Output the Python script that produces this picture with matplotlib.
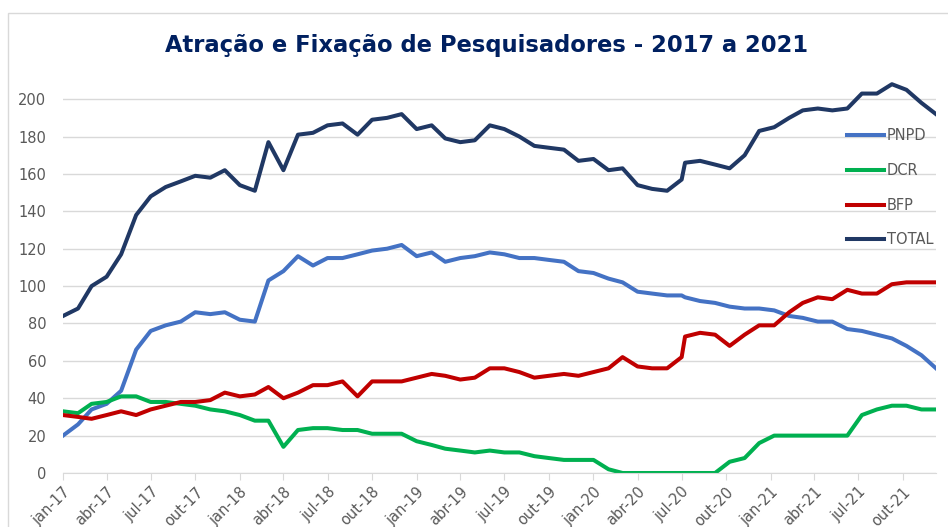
import pandas as pd
import matplotlib.pyplot as plt
import matplotlib.dates as mdates
from matplotlib.patches import Rectangle

# monthly points up to jul-20, then a second series of dates from jul-20 on
dates = list(pd.date_range('2017-01-01', '2020-07-01', freq='MS')) + \
    list(pd.date_range('2020-07-01', '2021-12-01', freq='MS') + pd.Timedelta(days=7))

pnpd = [20, 26, 34, 37, 44, 66, 76, 79, 81, 86, 85, 86, 82, 81, 103, 108, 116, 111,
        115, 115, 117, 119, 120, 122, 116, 118, 113, 115, 116, 118, 117, 115, 115, 114,
        113, 108, 107, 104, 102, 97, 96, 95, 95,
        94, 92, 91, 89, 88, 88, 87, 84, 83, 81, 81, 77, 76, 74, 72, 68, 63, 56]
dcr = [33, 32, 37, 38, 41, 41, 38, 38, 37, 36, 34, 33, 31, 28, 28, 14, 23, 24,
       24, 23, 23, 21, 21, 21, 17, 15, 13, 12, 11, 12, 11, 11, 9, 8,
       7, 7, 7, 2, 0, 0, 0, 0, 0,
       0, 0, 0, 6, 8, 16, 20, 20, 20, 20, 20, 20, 31, 34, 36, 36, 34, 34]
bfp = [31, 30, 29, 31, 33, 31, 34, 36, 38, 38, 39, 43, 41, 42, 46, 40, 43, 47,
       47, 49, 41, 49, 49, 49, 51, 53, 52, 50, 51, 56, 56, 54, 51, 52,
       53, 52, 54, 56, 62, 57, 56, 56, 62,
       73, 75, 74, 68, 74, 79, 79, 86, 91, 94, 93, 98, 96, 96, 101, 102, 102, 102]
total = [84, 88, 100, 105, 117, 138, 148, 153, 156, 159, 158, 162, 154, 151, 177, 162, 181, 182,
         186, 187, 181, 189, 190, 192, 184, 186, 179, 177, 178, 186, 184, 180, 175, 174,
         173, 167, 168, 162, 163, 154, 152, 151, 157,
         166, 167, 165, 163, 170, 183, 185, 190, 194, 195, 194, 195, 203, 203, 208, 205, 198, 192]

series = [('PNPD', pnpd, '#4472C4'), ('DCR', dcr, '#00B050'),
          ('BFP', bfp, '#C00000'), ('TOTAL', total, '#203864')]

fig = plt.figure(figsize=(9.48, 5.27), dpi=100)
fig.patches.append(Rectangle((8 / 948, -0.1), 1.2, 1.1 - 13 / 527, transform=fig.transFigure,
                             fill=False, edgecolor='#D9D9D9', lw=1))
ax = fig.add_axes([63 / 948, 1 - 473 / 527, (936 - 63) / 948, (473 - 73) / 527])

for name, vals, col in series:
    ax.plot(dates, vals, color=col, lw=2.9, label=name, solid_joinstyle='round')

ax.set_ylim(0, 214)
ax.set_yticks(range(0, 201, 20))
ax.set_xlim(dates[0], dates[-1])
ax.xaxis.set_major_locator(mdates.MonthLocator(bymonth=[1, 4, 7, 10]))
meses = {1: 'jan', 4: 'abr', 7: 'jul', 10: 'out'}
ax.xaxis.set_major_formatter(plt.FuncFormatter(
    lambda x, p: f"{meses[mdates.num2date(x).month]}-{mdates.num2date(x).strftime('%y')}"))

ax.grid(axis='y', color='#D9D9D9', lw=1)
ax.set_axisbelow(True)
for s in ['top', 'right', 'left']:
    ax.spines[s].set_visible(False)
ax.spines['bottom'].set_color('#D9D9D9')
ax.tick_params(axis='y', length=0, labelcolor='#595959', labelsize=10.5, pad=12)
ax.tick_params(axis='x', length=5, color='#D9D9D9', labelcolor='#595959', labelsize=10.5, pad=3)
for lb in ax.get_xticklabels():
    lb.set_rotation(45)
    lb.set_ha('right')
    lb.set_rotation_mode('anchor')

fig.text(0.513, 1 - 45 / 527, 'Atração e Fixação de Pesquisadores - 2017 a 2021',
         ha='center', va='center', fontsize=16.3, fontweight='bold', color='#002060')

leg = ax.legend(loc='upper left', bbox_to_anchor=(840 / 948, 1 - 121 / 527),
                bbox_transform=fig.transFigure, frameon=False, fontsize=10.5,
                handlelength=2.5, handletextpad=0.2, labelspacing=1.35, borderpad=0)
for t in leg.get_texts():
    t.set_color('#595959')

fig.savefig('out.png', dpi=100)
